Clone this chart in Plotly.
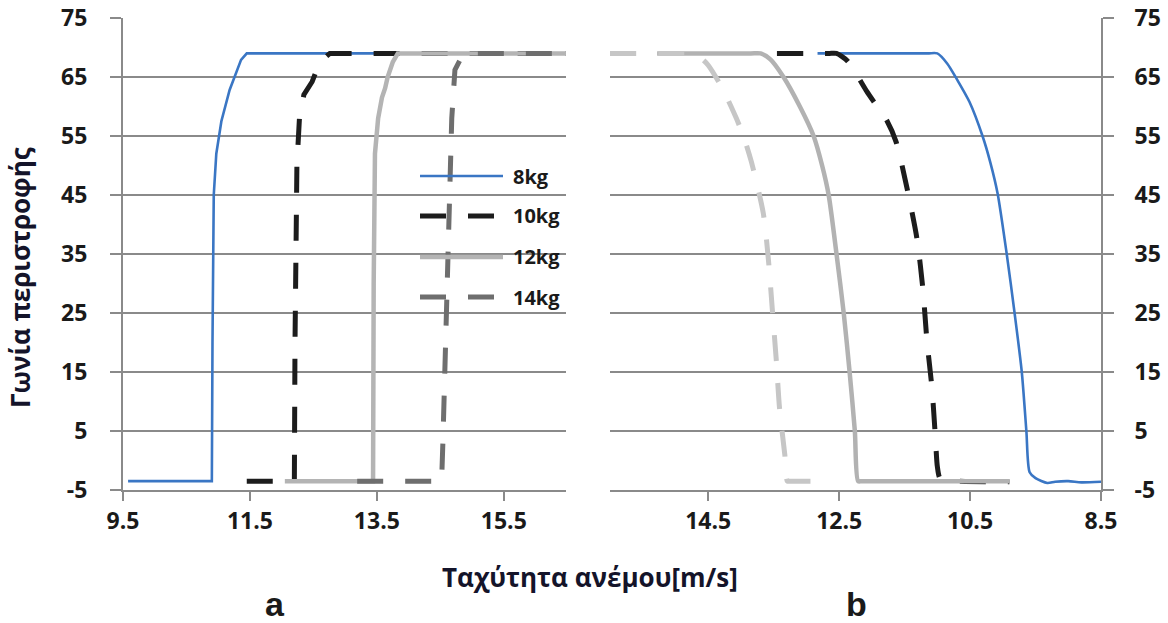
import plotly.graph_objects as go

# ---------------- data ----------------
series_names = ["8kg", "10kg", "12kg", "14kg"]

# panel a (increasing wind speed)
a_8kg_x = [9.58, 10.90, 10.91, 10.93, 10.97, 11.05, 11.18, 11.26, 11.36, 11.45, 16.5]
a_8kg_y = [-3.5, -3.5, 20, 45, 52, 57.5, 62.8, 65, 67.9, 69, 69]
a_10kg_x = [11.45, 12.20, 12.21, 12.24, 12.28, 12.35, 12.48, 12.60, 12.76, 16.5]
a_10kg_y = [-3.5, -3.5, 20, 50, 58, 62, 64.2, 67.5, 69, 69]
a_12kg_x = [12.05, 13.44, 13.45, 13.47, 13.52, 13.58, 13.63, 13.67, 13.75, 13.83, 16.5]
a_12kg_y = [-3.5, -3.5, 30, 52, 58, 61.5, 63.1, 65, 67.5, 69, 69]
a_14kg_x = [13.19, 14.52, 14.54, 14.60, 14.65, 14.68, 14.73, 14.85, 14.96, 16.5]
a_14kg_y = [-3.5, -3.5, 3, 25, 50, 58, 66.2, 68.7, 69, 69]

# panel b (decreasing wind speed, reversed axis)
b_8kg_x = [12.83, 11.15, 11.00, 10.85, 10.70, 10.51, 10.31, 10.19, 10.08, 9.94,
           9.82, 9.71, 9.64, 9.59, 9.50, 9.32, 9.20, 9.00, 8.80, 8.50]
b_8kg_y = [69, 69, 69, 67.3, 64.6, 60.8, 55, 50.5, 45.3, 35,
           25, 15, 5, -2, -3.0, -3.8, -3.6, -3.5, -3.7, -3.6]
b_10kg_x = [13.45, 12.90, 12.65, 12.54, 12.38, 12.21, 12.08, 11.97, 11.78, 11.63, 11.46, 11.31,
            11.22, 11.16, 11.08, 11.03, 11.00, 10.96, 10.85, 9.90]
b_10kg_y = [69, 69, 69, 69, 67.8, 65, 62.6, 60.8, 57.8, 54, 46, 37.5,
            29, 20.5, 12, 4, -1, -3, -3.4, -3.6]
b_12kg_x = [15.28, 13.85, 13.70, 13.55, 13.35, 13.10, 12.89, 12.76, 12.66, 12.54, 12.43, 12.34,
            12.26, 12.21, 12.15, 9.90]
b_12kg_y = [69, 69, 69, 68, 65, 60, 55, 50, 45, 35, 25, 15,
            5, -3.5, -3.5, -3.5]
b_14kg_x = [16.00, 14.85, 14.73, 14.62, 14.50, 14.28, 14.07, 13.95, 13.84, 13.66, 13.58, 13.52,
            13.46, 13.41, 13.33, 13.29, 13.24, 12.69]
b_14kg_y = [69, 69, 69, 68.3, 67, 63, 58, 54.6, 50.6, 42, 34, 25.5,
            17, 8.8, 1, -3.5, -3.5, -3.5]

a_xticks = [9.5, 11.5, 13.5, 15.5]
b_xticks = [14.5, 12.5, 10.5, 8.5]
y_ticks = [-5, 5, 15, 25, 35, 45, 55, 65, 75]
y_ticktext = ["-5", "5", "15", "25", "35", "45", "55", "65", "75"]

y_title = "Γωνία περιστροφής"
x_title = "Ταχύτητα ανέμου[m/s]"

# ---------------- styles ----------------
W, H = 1168, 623
DASH = "26px,22px"
style_a = {
    "8kg": dict(color="#3a76c4", width=2.6, dash="solid"),
    "10kg": dict(color="#1c1c1c", width=5, dash=DASH),
    "12kg": dict(color="#b4b4b4", width=4.5, dash="solid"),
    "14kg": dict(color="#6e6e6e", width=5, dash=DASH),
}
style_b = {
    "8kg": dict(color="#3a76c4", width=2.6, dash="solid"),
    "10kg": dict(color="#1c1c1c", width=5, dash=DASH),
    "12kg": dict(color="#b2b2b2", width=4.5, dash="solid"),
    "14kg": dict(color="#c6c6c6", width=5, dash=DASH),
}

a_data = {"8kg": (a_8kg_x, a_8kg_y), "10kg": (a_10kg_x, a_10kg_y),
          "12kg": (a_12kg_x, a_12kg_y), "14kg": (a_14kg_x, a_14kg_y)}
b_data = {"8kg": (b_8kg_x, b_8kg_y), "10kg": (b_10kg_x, b_10kg_y),
          "12kg": (b_12kg_x, b_12kg_y), "14kg": (b_14kg_x, b_14kg_y)}

fig = go.Figure()
for name in series_names:
    x, y = a_data[name]
    fig.add_trace(go.Scatter(x=x, y=y, mode="lines", name=name, line=style_a[name],
                             xaxis="x", yaxis="y", showlegend=False, hoverinfo="skip"))
for name in series_names:
    x, y = b_data[name]
    fig.add_trace(go.Scatter(x=x, y=y, mode="lines", name=name,
                             line=dict(shape="spline", smoothing=0.7, **style_b[name]),
                             xaxis="x2", yaxis="y2", showlegend=False, hoverinfo="skip"))

GRID = "#8a8a8a"
TXT = "#1a1a1a"
tickfont = dict(family="Open Sans", size=23, color=TXT, weight="bold")

def px(xp):
    return xp / W

def py(yp):
    return 1 - yp / H

ydom = [py(490), py(18)]

common_x = dict(showgrid=False, zeroline=False, showline=True, linecolor=GRID, linewidth=2,
                ticks="outside", ticklen=9, tickwidth=2, tickcolor=GRID, tickfont=tickfont,
                automargin=False)
common_y = dict(range=[-5, 75], tickvals=y_ticks, ticktext=y_ticktext, showgrid=True,
                gridcolor=GRID, gridwidth=2, zeroline=False, showline=True, linecolor=GRID,
                linewidth=2, ticks="outside", ticklen=11, tickwidth=2, tickcolor=GRID,
                tickfont=tickfont, automargin=False)

fig.update_layout(
    width=W, height=H,
    margin=dict(l=0, r=0, t=0, b=0, autoexpand=False),
    paper_bgcolor="white", plot_bgcolor="white",
    xaxis=dict(domain=[px(123), px(566)], range=[9.5, 16.48], tickvals=a_xticks,
               ticktext=[f"{v}" for v in a_xticks], anchor="y", **common_x),
    yaxis=dict(domain=ydom, ticklabelstandoff=18, anchor="x", **common_y),
    xaxis2=dict(domain=[px(610), px(1101)], range=[16.0, 8.5], tickvals=b_xticks,
                ticktext=[f"{v}" for v in b_xticks], anchor="y2", **common_x),
    yaxis2=dict(domain=ydom, side="right", ticklabelstandoff=16, anchor="x2", **common_y),
    showlegend=False,
)

annotations = [
    dict(text=y_title, x=px(20), y=py(278), xref="paper", yref="paper", textangle=-90,
         showarrow=False, font=dict(family="Open Sans", size=26, color="#14142a", weight="bold"),
         xanchor="center", yanchor="middle"),
    dict(text=x_title, x=px(590), y=py(577), xref="paper", yref="paper", showarrow=False,
         font=dict(family="Open Sans", size=26, color="#14142a", weight="bold"),
         xanchor="center", yanchor="middle"),
    dict(text="a", x=px(275), y=py(604), xref="paper", yref="paper", showarrow=False,
         font=dict(family="Liberation Sans", size=34, color=TXT, weight="bold"),
         xanchor="center", yanchor="middle"),
    dict(text="b", x=px(856), y=py(604), xref="paper", yref="paper", showarrow=False,
         font=dict(family="Liberation Sans", size=34, color=TXT, weight="bold"),
         xanchor="center", yanchor="middle"),
]

# manual legend (sample lines + real text)
legend_rows = [176, 216, 257, 297]
shapes = []
for name, yr in zip(series_names, legend_rows):
    st = style_a[name]
    shapes.append(dict(type="line", xref="paper", yref="paper", x0=px(420), x1=px(503),
                       y0=py(yr), y1=py(yr),
                       line=dict(color=st["color"], width=st["width"], dash=st["dash"])))
    annotations.append(dict(text=name, x=px(511), y=py(yr), xref="paper", yref="paper",
                            showarrow=False, xanchor="left", yanchor="middle",
                            font=dict(family="Open Sans", size=20, color=TXT, weight="bold")))

fig.update_layout(annotations=annotations, shapes=shapes)
fig.write_html("out.html", config={"displayModeBar": False},
               post_script="document.body.style.margin='0px';")
